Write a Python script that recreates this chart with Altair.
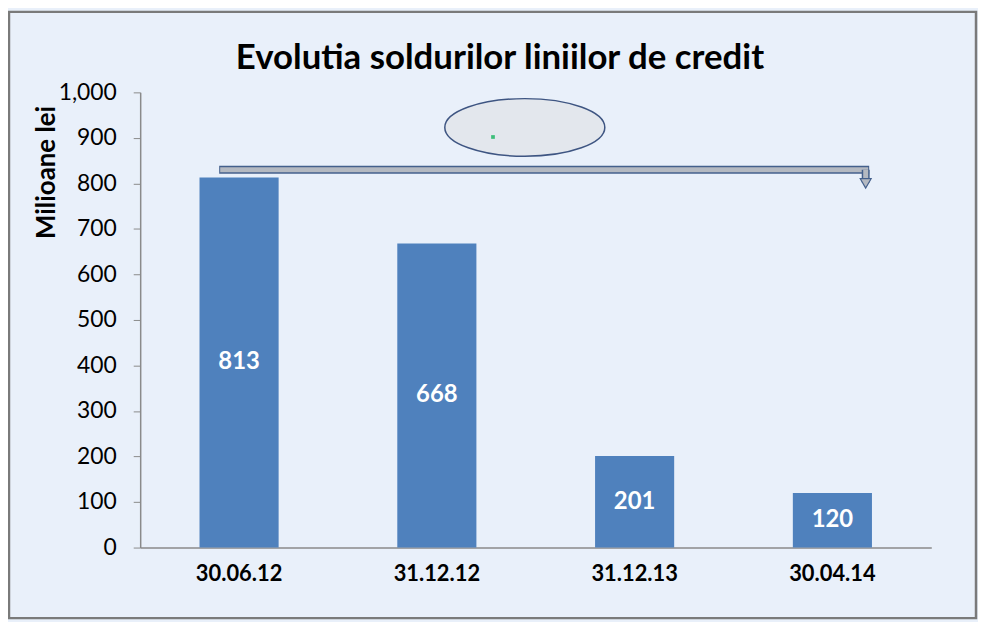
import altair as alt
import pandas as pd

categories = ["30.06.12", "31.12.12", "31.12.13", "30.04.14"]
values = [813, 668, 201, 120]
title_text = "Evolutia soldurilor liniilor de credit"
y_title = "Milioane lei"
y_ticks = [0, 100, 200, 300, 400, 500, 600, 700, 800, 900, 1000]

# annotation values (data units)
arrow_level = 830
arrow_tip = 790
ellipse_level = 923
dot_level = 902

BG = "#E9F0FA"
BAR = "#4F81BD"
FONT = "Lato"

df = pd.DataFrame({"cat": categories, "val": values})

xscale = alt.Scale(domain=categories, paddingInner=0.6, paddingOuter=0.3)
yscale = alt.Scale(domain=[0, 1000], nice=False)

xaxis = alt.Axis(labelAngle=0, ticks=False, labelFontWeight="bold",
                 labelFontSize=22, labelPadding=16, labelColor="black",
                 domainColor="#8A8A8A", domainWidth=1.5, labelFont=FONT)
yaxis = alt.Axis(values=y_ticks, labelExpr="format(datum.value, ',.0f')",
                 grid=False, tickSize=7,
                 tickColor="#8A8A8A", domainColor="#8A8A8A", domainWidth=1.5,
                 labelFontSize=23, labelPadding=17, labelColor="black",
                 labelFont=FONT, titleFont=FONT, titleFontSize=26,
                 titleFontWeight="bold", titleColor="black",
                 titleAlign="center", titleBaseline="middle",
                 titleX=-94, titleY=80)


def xc(field):
    return alt.X(field, scale=xscale, title=None, axis=xaxis)


def yc(field):
    return alt.Y(field, scale=yscale, title=y_title, axis=yaxis)


base = alt.Chart(df)

frame = alt.Chart(pd.DataFrame({"k": [0]})).mark_rect(
    fill=None, stroke="#7A7A7A", strokeWidth=2.5
).encode(x=alt.value(-132), x2=alt.value(841), y=alt.value(-81), y2=alt.value(529))

title = alt.Chart(pd.DataFrame({"t": [title_text]})).mark_text(
    font=FONT, fontSize=35, fontWeight="bold", color="black",
    align="center", baseline="alphabetic"
).encode(x=alt.value(362), y=alt.value(-24), text="t:N")

bars = base.mark_bar(color=BAR).encode(x=xc("cat:N"), y=yc("val:Q"))

labels = base.transform_calculate(mid="datum.val / 2").mark_text(
    color="white", fontWeight="bold", fontSize=24, font=FONT
).encode(x=xc("cat:N"), y=yc("mid:Q"), text=alt.Text("val:Q"))

arrow_df = pd.DataFrame({"a": [categories[0]], "b": [categories[-1]], "y": [arrow_level]})
arrow_outer = alt.Chart(arrow_df).mark_rule(
    color="#44608C", strokeWidth=8, xOffset=-20, x2Offset=37, strokeCap="butt"
).encode(x=xc("a:N"), x2="b:N", y=yc("y:Q"))
arrow_inner = alt.Chart(arrow_df).mark_rule(
    color="#B4B9C1", strokeWidth=5, xOffset=-19, x2Offset=36, strokeCap="butt"
).encode(x=xc("a:N"), x2="b:N", y=yc("y:Q"))

stem_df = pd.DataFrame({"b": [categories[-1]], "y": [arrow_level], "y2": [arrow_tip + 12]})
stem_outer = alt.Chart(stem_df).mark_rule(
    color="#44608C", strokeWidth=8, xOffset=33.5, strokeCap="butt"
).encode(x=xc("b:N"), y=yc("y:Q"), y2="y2:Q")
stem_inner = alt.Chart(stem_df).mark_rule(
    color="#B4B9C1", strokeWidth=5, xOffset=33.5, strokeCap="butt"
).encode(x=xc("b:N"), y=yc("y:Q"), y2="y2:Q")

tip_df = pd.DataFrame({"b": [categories[-1]], "y": [arrow_tip + 10]})
tip = alt.Chart(tip_df).mark_point(
    shape="triangle-down", filled=True, size=120, color="#B4B9C1",
    stroke="#44608C", strokeWidth=1.2, opacity=1, xOffset=33.5
).encode(x=xc("b:N"), y=yc("y:Q"))

ellipse_path = ("M -1 0 C -1 -0.1988 -0.5523 -0.36 0 -0.36 C 0.5523 -0.36 1 -0.1988 1 0 "
                "C 1 0.1988 0.5523 0.36 0 0.36 C -0.5523 0.36 -1 0.1988 -1 0 Z")
ell_df = pd.DataFrame({"c": [categories[1]], "y": [ellipse_level]})
ellipse = alt.Chart(ell_df).mark_point(
    shape=ellipse_path, size=161 * 161, filled=True, fill="#E3E7ED",
    stroke="#3E5582", strokeWidth=1.5, opacity=1, xOffset=88.5
).encode(x=xc("c:N"), y=yc("y:Q"))

dot_df = pd.DataFrame({"c": [categories[1]], "y": [dot_level]})
dot = alt.Chart(dot_df).mark_point(
    shape="square", size=14, filled=True, color="#3DBE7A", opacity=1, xOffset=56.5
).encode(x=xc("c:N"), y=yc("y:Q"))

chart = alt.layer(
    frame, title, bars, labels, ellipse, dot, arrow_outer, arrow_inner,
    stem_outer, stem_inner, tip
).properties(
    width=796, height=458,
    autosize=alt.AutoSizeParams(type="none"),
    padding={"left": 133, "top": 83, "right": 47, "bottom": 73},
    background=BG,
).configure_view(stroke=None)

chart.save("out.html", embed_options={"renderer": "svg", "actions": False})
